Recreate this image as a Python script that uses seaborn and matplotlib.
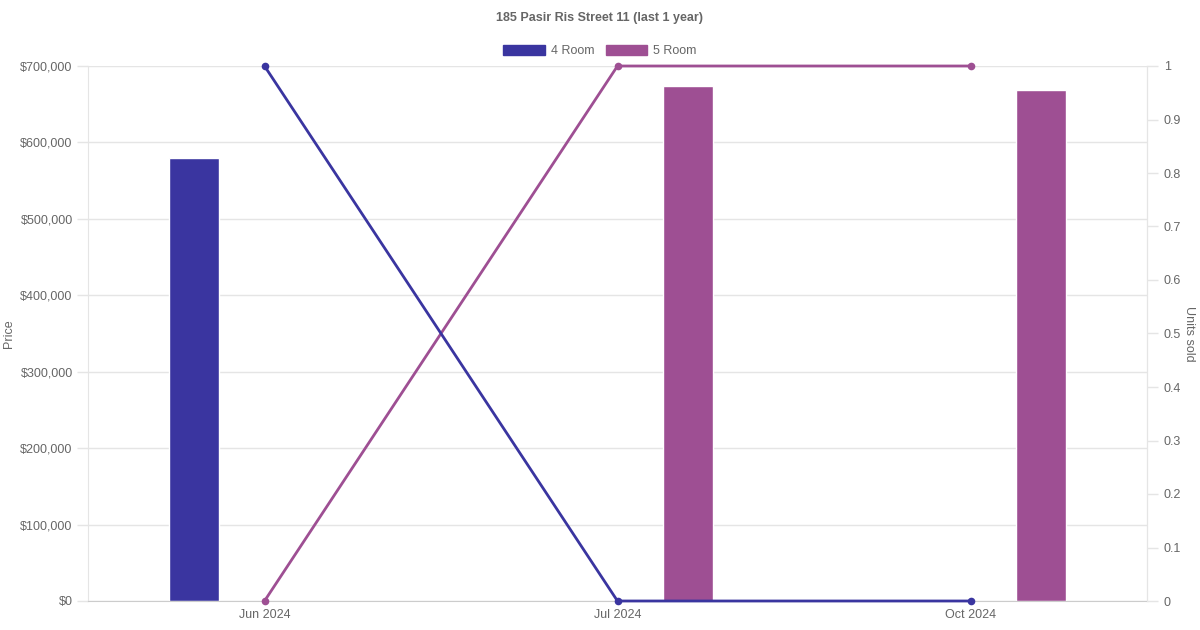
import pandas as pd
import seaborn as sns
from matplotlib import pyplot as plt
from matplotlib.patches import Patch
from matplotlib.ticker import FuncFormatter, MultipleLocator

months = ["Jun 2024", "Jul 2024", "Oct 2024"]
flat_types = ["4 Room", "5 Room"]

# average price per month (bars)
price_month = ["Jun 2024", "Jul 2024", "Oct 2024"]
price_type = ["4 Room", "5 Room", "5 Room"]
price_value = [580000, 674000, 669000]

# units sold per month (lines)
units_4room = [1, 0, 0]
units_5room = [0, 1, 1]

colors = {"4 Room": "#3a35a0", "5 Room": "#9e4f93"}
text_col = "#666666"
grid_col = "#e5e5e5"

sns.set_style("white")
plt.rcParams["font.family"] = ["Liberation Sans", "DejaVu Sans"]

prices = pd.DataFrame({"Month": price_month, "Type": price_type, "Price": price_value})
units = pd.DataFrame({
    "Month": months * 2,
    "Type": ["4 Room"] * 3 + ["5 Room"] * 3,
    "Units": units_4room + units_5room,
})

fig = plt.figure(figsize=(12, 6.3), dpi=100)
ax = fig.add_axes([88 / 1200, 29 / 630, 1059 / 1200, 535 / 630])

sns.barplot(data=prices, x="Month", y="Price", hue="Type", order=months,
            hue_order=flat_types, palette=colors, saturation=1, width=0.8,
            gap=0.645, dodge=True, legend=False, ax=ax, zorder=2)

ax.set_xlim(-0.5, 2.5)
ax.set_ylim(0, 700000)
ax.yaxis.set_major_locator(MultipleLocator(100000))
ax.yaxis.set_major_formatter(FuncFormatter(lambda v, p: f"${v:,.0f}"))
ax.grid(axis="y", color=grid_col, linewidth=1, zorder=0)
ax.set_axisbelow(True)
ax.set_xlabel("")
ax.set_ylabel("Price", color=text_col, fontsize=9, labelpad=4)
ax.tick_params(axis="y", colors=grid_col, labelcolor=text_col, labelsize=9,
               length=8, width=1, pad=3)
ax.tick_params(axis="x", length=0, labelcolor=text_col, labelsize=9, pad=6)
ax.spines["top"].set_visible(False)
ax.spines["left"].set_color(grid_col)
ax.spines["right"].set_color(grid_col)
ax.spines["bottom"].set_color("#cccccc")

ax2 = ax.twinx()
sns.lineplot(data=units, x="Month", y="Units", hue="Type",
             hue_order=["5 Room", "4 Room"], palette=colors, marker="o",
             markersize=5.5, markeredgewidth=0, linewidth=2, legend=False,
             ax=ax2, clip_on=False)
ax2.set_ylim(0, 1)
ax2.yaxis.set_major_locator(MultipleLocator(0.1))
ax2.yaxis.set_major_formatter(FuncFormatter(lambda v, p: f"{v:.1f}".rstrip("0").rstrip(".") if v else "0"))
ax2.set_ylabel("Units sold", color=text_col, fontsize=9, rotation=270, labelpad=10)
ax2.tick_params(axis="y", colors=grid_col, labelcolor=text_col, labelsize=9,
                length=8, width=1, pad=4)
ax2.set_xlabel("")
for side in ["top", "left", "bottom"]:
    ax2.spines[side].set_visible(False)
ax2.spines["right"].set_color(grid_col)
ax.set_xlim(-0.5, 2.5)

fig.text(0.5, 1 - 18 / 630, "185 Pasir Ris Street 11 (last 1 year)", ha="center",
         va="center", fontsize=9, fontweight="bold", color=text_col)
handles = [Patch(facecolor=colors[t], edgecolor=colors[t]) for t in flat_types]
fig.legend(handles, flat_types, loc="center", bbox_to_anchor=(0.5, 1 - 51 / 630),
           ncol=2, frameon=False, fontsize=9, labelcolor=text_col,
           handlelength=3.3, handleheight=0.9, handletextpad=0.5, columnspacing=0.9)

fig.savefig("out.png", dpi=100)
